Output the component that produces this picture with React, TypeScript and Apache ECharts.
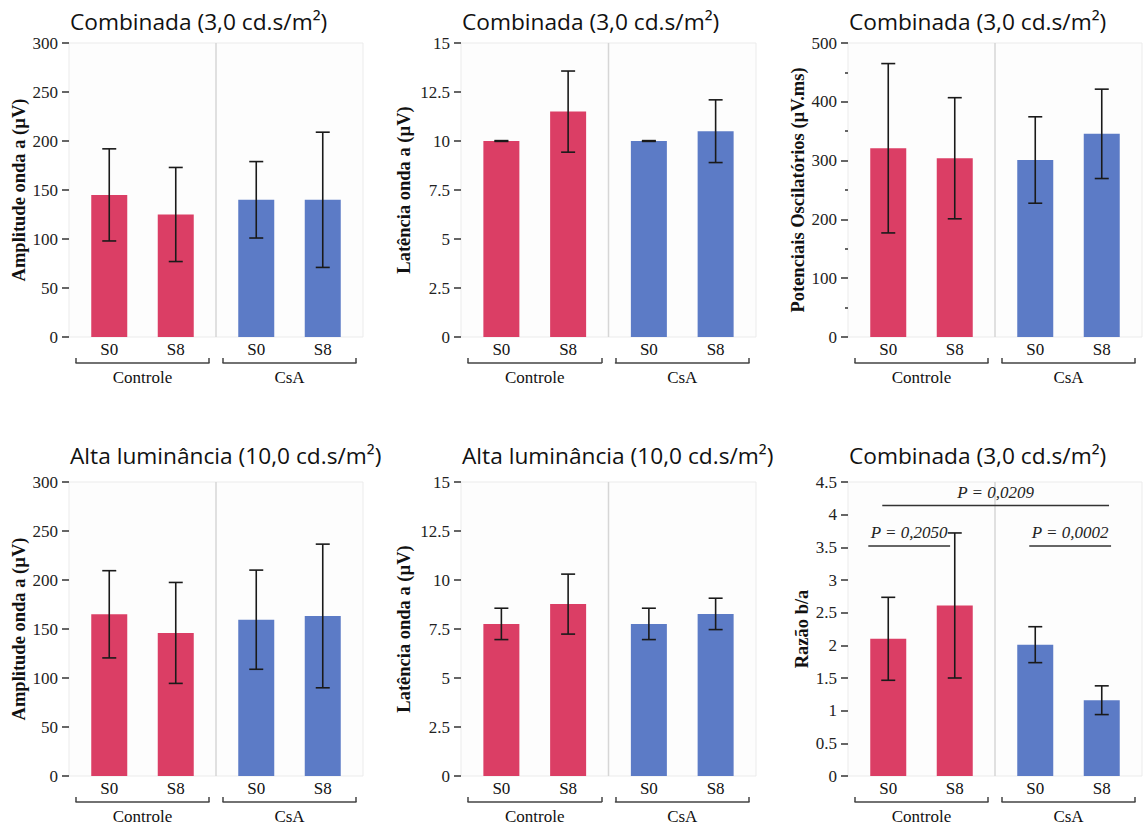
import React, { useEffect, useRef } from 'react';
import * as echarts from 'echarts';

// ---------- data ----------
const groupNames = ['Controle', 'CsA'];
const sessionLabels = ['S0', 'S8'];

const titleCombinada = 'Combinada (3,0 cd.s/m²)';
const titleAlta = 'Alta luminância (10,0 cd.s/m²)';

// order of values: Controle S0, Controle S8, CsA S0, CsA S8
const ampCombMean = [145, 125, 140, 140];
const ampCombSd = [47, 48, 39, 69];
const latCombMean = [10.0, 11.5, 10.0, 10.5];
const latCombSd = [0.02, 2.07, 0.02, 1.6];
const opMean = [321, 304, 301, 345.5];
const opSd = [144, 103, 73.5, 76];
const ampAltaMean = [165, 146, 159.5, 163.3];
const ampAltaSd = [44.5, 51.5, 50.6, 73.3];
const latAltaMean = [7.76, 8.77, 7.76, 8.27];
const latAltaSd = [0.8, 1.53, 0.8, 0.8];
const ratioMean = [2.1, 2.61, 2.01, 1.16];
const ratioSd = [0.635, 1.11, 0.275, 0.22];

// comparison brackets on the b/a ratio panel (from/to in bar slots of the group)
const ratioComparisons = [
  { label: 'P = 0,2050', group: 0, from: -0.3, to: 0.93, y: 3.52 },
  { label: 'P = 0,0209', group: 0, from: -0.09, to: 3.32, y: 4.14 },
  { label: 'P = 0,0002', group: 1, from: -0.09, to: 1.14, y: 3.52 },
];

// ---------- layout / style ----------
const colLeft = [69, 461, 848];
const colRight = [363, 756, 1142];
const rowTop = [43, 482];
const rowBottom = [337, 776];
const groupColors = ['#db3e65', '#5c7bc6'];
const serif = '"Liberation Serif", "Times New Roman", serif';
const sans = '"Open Sans", "Noto Sans", sans-serif';

type Panel = {
  title: string;
  yName: string;
  mean: number[];
  sd: number[];
  min: number;
  max: number;
  interval: number;
  row: number;
  col: number;
  nameGap: number;
  minor?: boolean;
  comps?: typeof ratioComparisons;
};

const panels: Panel[] = [
  { title: titleCombinada, yName: 'Amplitude onda a (µV)', mean: ampCombMean, sd: ampCombSd, min: 0, max: 300, interval: 50, row: 0, col: 0, nameGap: 40 },
  { title: titleCombinada, yName: 'Latência onda a (µV)', mean: latCombMean, sd: latCombSd, min: 0, max: 15, interval: 2.5, row: 0, col: 1, nameGap: 48 },
  { title: titleCombinada, yName: 'Potenciais Oscilatórios (µV.ms)', mean: opMean, sd: opSd, min: 0, max: 500, interval: 100, row: 0, col: 2, nameGap: 40, minor: true },
  { title: titleAlta, yName: 'Amplitude onda a (µV)', mean: ampAltaMean, sd: ampAltaSd, min: 0, max: 300, interval: 50, row: 1, col: 0, nameGap: 40 },
  { title: titleAlta, yName: 'Latência onda a (µV)', mean: latAltaMean, sd: latAltaSd, min: 0, max: 15, interval: 2.5, row: 1, col: 1, nameGap: 48 },
  { title: titleCombinada, yName: 'Razão b/a', mean: ratioMean, sd: ratioSd, min: 0, max: 4.5, interval: 0.5, row: 1, col: 2, nameGap: 35, comps: ratioComparisons },
];

function buildOption() {
  const grid: any[] = [];
  const xAxis: any[] = [];
  const yAxis: any[] = [];
  const series: any[] = [];
  const title: any[] = [];

  panels.forEach((p) => {
    const L = colLeft[p.col];
    const R = colRight[p.col];
    const T = rowTop[p.row];
    const B = rowBottom[p.row];
    const mid = (L + R) / 2;
    const H = B - T;

    title.push({
      text: p.title,
      left: L + 1,
      top: (p.row === 0 ? 21 : 455.5) - 12,
      padding: 0,
      textStyle: { fontFamily: sans, fontSize: 22.7, fontWeight: 'normal', color: '#111', lineHeight: 24 },
    });

    // frame grid
    const frameGrid = grid.length;
    grid.push({ left: L, top: T, width: R - L, height: H, show: true, backgroundColor: '#fdfdfd', borderColor: '#ebebeb', borderWidth: 1 });
    const frameX = xAxis.length;
    xAxis.push({ gridIndex: frameGrid, type: 'value', min: 0, max: 2, show: false });
    const frameY = yAxis.length;
    yAxis.push({
      gridIndex: frameGrid,
      type: 'value',
      min: p.min,
      max: p.max,
      interval: p.interval,
      name: p.yName,
      nameLocation: 'middle',
      nameGap: p.nameGap,
      nameTextStyle: { fontFamily: serif, fontWeight: 'bold', fontSize: 18.5, color: '#111' },
      axisLine: { show: false },
      axisTick: { show: true, length: 7, lineStyle: { color: '#333', width: 1.5 } },
      minorTick: p.minor ? { show: true, splitNumber: 2, length: 3, lineStyle: { color: '#333', width: 1.5 } } : { show: false },
      splitLine: { show: false },
      axisLabel: { fontFamily: serif, fontSize: 17, color: '#222', margin: 11 },
    });
    // separator between groups
    series.push({
      type: 'custom',
      xAxisIndex: frameX,
      yAxisIndex: frameY,
      silent: true,
      z: 1,
      data: [[1, p.min, p.max]],
      encode: { x: 0, y: [1, 2] },
      renderItem: (_params: any, api: any) => {
        const a = api.coord([api.value(0), api.value(1)]);
        const b = api.coord([api.value(0), api.value(2)]);
        return { type: 'line', shape: { x1: a[0], y1: a[1], x2: b[0], y2: b[1] }, style: { stroke: '#d6d6d6', lineWidth: 1.5 } };
      },
    });

    groupNames.forEach((gname, g) => {
      const gl = g === 0 ? L + 7 : mid + 7;
      const gr = g === 0 ? mid - 7 : R - 7;
      const gi = grid.length;
      grid.push({ left: gl, top: T, width: gr - gl, height: H });
      const xi = xAxis.length;
      xAxis.push({
        gridIndex: gi,
        type: 'category',
        data: sessionLabels,
        axisLine: { show: false },
        axisTick: { show: false },
        axisLabel: { fontFamily: serif, fontSize: 17, color: '#111', margin: 4 },
      });
      xAxis.push({
        gridIndex: gi,
        type: 'category',
        data: [gname],
        position: 'bottom',
        offset: 26,
        axisLine: { show: true, lineStyle: { color: '#444', width: 1.5 } },
        axisTick: { show: true, inside: true, length: 5, lineStyle: { color: '#444', width: 1.5 } },
        axisLabel: { fontFamily: serif, fontSize: 17, color: '#111', margin: 6 },
      });
      const yi = yAxis.length;
      yAxis.push({ gridIndex: gi, type: 'value', min: p.min, max: p.max, interval: p.interval, show: false });

      const means = p.mean.slice(g * 2, g * 2 + 2);
      const sds = p.sd.slice(g * 2, g * 2 + 2);
      series.push({
        type: 'bar',
        name: gname,
        xAxisIndex: xi,
        yAxisIndex: yi,
        barWidth: 36,
        z: 2,
        itemStyle: { color: groupColors[g] },
        data: means,
      });
      series.push({
        type: 'custom',
        xAxisIndex: xi,
        yAxisIndex: yi,
        silent: true,
        z: 5,
        data: means.map((m, i) => [i, m - sds[i], m + sds[i]]),
        encode: { x: 0, y: [1, 2] },
        renderItem: (_params: any, api: any) => {
          const lo = api.coord([api.value(0), api.value(1)]);
          const hi = api.coord([api.value(0), api.value(2)]);
          const hw = 7;
          const style = { stroke: '#1a1a1a', lineWidth: 1.6 };
          return {
            type: 'group',
            children: [
              { type: 'line', shape: { x1: lo[0], y1: lo[1], x2: hi[0], y2: hi[1] }, style },
              { type: 'line', shape: { x1: lo[0] - hw, y1: lo[1], x2: lo[0] + hw, y2: lo[1] }, style },
              { type: 'line', shape: { x1: hi[0] - hw, y1: hi[1], x2: hi[0] + hw, y2: hi[1] }, style },
            ],
          };
        },
      });

      if (p.comps) {
        const comps = p.comps.filter((c) => c.group === g);
        if (comps.length) {
          series.push({
            type: 'custom',
            xAxisIndex: xi,
            yAxisIndex: yi,
            silent: true,
            clip: false,
            z: 6,
            data: comps.map((c) => [0, c.y]),
            encode: { x: 0, y: 1 },
            renderItem: (params: any, api: any) => {
              const c = comps[params.dataIndex];
              const base = api.coord([0, api.value(1)]);
              const bw = api.size([1, 0])[0];
              const x1 = base[0] + c.from * bw;
              const x2 = base[0] + c.to * bw;
              const y = base[1];
              return {
                type: 'group',
                children: [
                  { type: 'line', shape: { x1, y1: y, x2, y2: y }, style: { stroke: '#333', lineWidth: 1.5 } },
                  {
                    type: 'text',
                    x: (x1 + x2) / 2,
                    y: y - 5,
                    style: {
                      text: c.label,
                      align: 'center',
                      verticalAlign: 'bottom',
                      fontFamily: serif,
                      fontStyle: 'italic',
                      fontSize: 17,
                      fill: '#222',
                    },
                  },
                ],
              };
            },
          });
        }
      }
    });
  });

  return { animation: false, backgroundColor: '#ffffff', title, grid, xAxis, yAxis, series };
}

export default function App() {
  const ref = useRef<HTMLDivElement>(null);
  useEffect(() => {
    if (!ref.current) return;
    const chart = echarts.init(ref.current, undefined, { renderer: 'svg' });
    chart.setOption(buildOption() as any);
    return () => chart.dispose();
  }, []);
  return <div ref={ref} style={{ position: 'absolute', left: 0, top: 0, width: 1143, height: 826, background: '#fff' }} />;
}
